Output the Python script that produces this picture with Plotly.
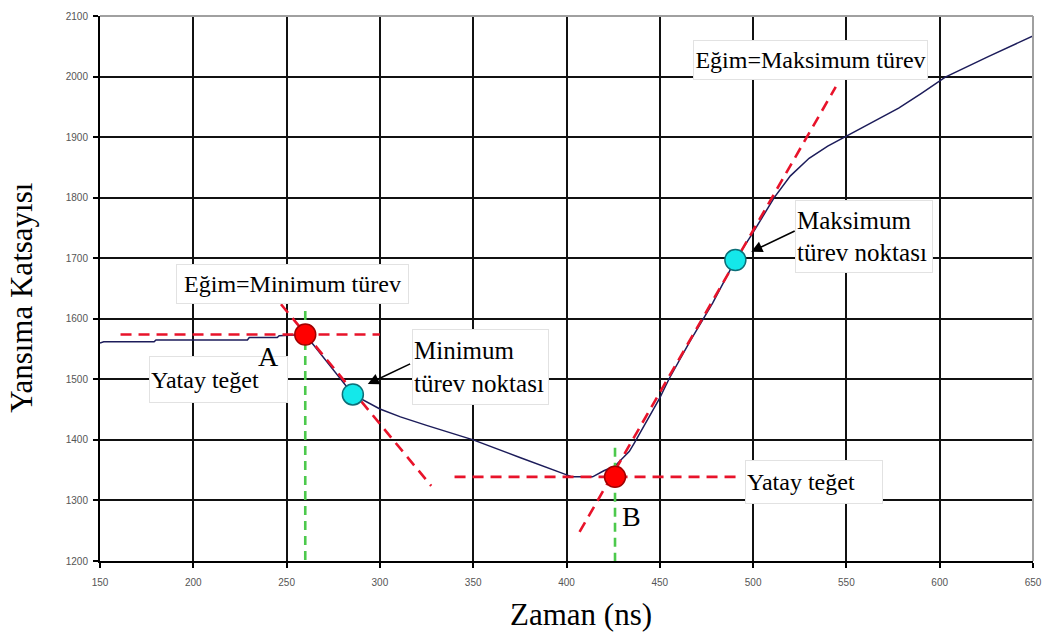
import plotly.graph_objects as go

# ---- data ----
time_ns = [150, 152, 179, 180, 229, 230, 245, 246, 260, 272, 285.5, 300, 311, 325, 350, 375,
           399, 403, 414, 420, 426, 433.7, 436.4, 442.7, 449.8, 455, 466, 478.3, 490.5, 499.7,
           505, 511.3, 520, 530, 540, 549, 565, 578, 590, 603, 626, 650]
reflection = [1560, 1562, 1562, 1565, 1565, 1569, 1569, 1572, 1574, 1527, 1475, 1451, 1438, 1424, 1400, 1371,
              1343, 1339, 1339, 1349, 1357, 1381, 1395, 1430, 1468, 1501, 1562, 1626, 1697, 1741,
              1768, 1800, 1836, 1865, 1885, 1900, 1926, 1948, 1972, 1999, 2033, 2067]

# tangent lines (end points)
tanA_h_x = [161, 300]; tanA_h_y = [1574, 1574]
tanB_h_x = [340, 491.5]; tanB_h_y = [1339, 1339]
tan_min_x = [247, 327.5]; tan_min_y = [1624, 1324]
tan_max_x = [407, 544.3]; tan_max_y = [1248, 1983]
vertA_x = [260, 260]; vertA_y = [1613, 1200]
vertB_x = [426, 426]; vertB_y = [1387, 1200]

# special points
red_x = [260, 426]; red_y = [1574, 1339]
cyan_x = [285.5, 490.5]; cyan_y = [1475, 1697]

x_ticks = [150, 200, 250, 300, 350, 400, 450, 500, 550, 600, 650]
y_ticks = [1200, 1300, 1400, 1500, 1600, 1700, 1800, 1900, 2000, 2100]

SERIF = "Liberation Serif"
RED = "#e8132a"
GREEN = "#4cc94c"

fig = go.Figure()

fig.add_trace(go.Scatter(x=time_ns, y=reflection, mode="lines",
                         line=dict(color="#1c1c5a", width=1.5), showlegend=False))
for xs, ys in [(tanA_h_x, tanA_h_y), (tanB_h_x, tanB_h_y), (tan_min_x, tan_min_y), (tan_max_x, tan_max_y)]:
    fig.add_trace(go.Scatter(x=xs, y=ys, mode="lines",
                             line=dict(color=RED, width=2.6, dash="11px,7px"), showlegend=False))
for xs, ys in [(vertA_x, vertA_y), (vertB_x, vertB_y)]:
    fig.add_trace(go.Scatter(x=xs, y=ys, mode="lines",
                             line=dict(color=GREEN, width=2.6, dash="9px,6px"), showlegend=False))
fig.add_trace(go.Scatter(x=red_x, y=red_y, mode="markers",
                         marker=dict(size=21, color="#ff0000", line=dict(color="#a00000", width=1.5)),
                         showlegend=False))
fig.add_trace(go.Scatter(x=cyan_x, y=cyan_y, mode="markers",
                         marker=dict(size=21, color="#14e8ea", line=dict(color="#0c6f78", width=1.5)),
                         showlegend=False))

lab_font24 = dict(family=SERIF, size=24, color="black")
lab_font25 = dict(family=SERIF, size=25, color="black")
box = dict(bgcolor="white", bordercolor="#e2e2e2", borderwidth=1, showarrow=False,
           xref="x", yref="y")
annots = [
    dict(x=253.0, y=1657.4, text="Eğim=Minimum türev", width=229, height=36, font=lab_font24, **box),
    dict(x=530.9, y=2028.1, text="Eğim=Maksimum türev", width=231, height=36, font=lab_font24, **box),
    dict(x=559.5, y=1736.6, text="Maksimum<br>türev noktası", width=134, height=69, align="left", font=lab_font25, **box),
    dict(x=353.7, y=1520.1, text="Minimum<br>türev noktası", width=133, height=72, align="left", font=lab_font25, **box),
    dict(x=213.5, y=1499.7, text="Yatay teğet", width=135, height=43, align="left", font=lab_font24, **box),
    dict(x=532.7, y=1330.7, text="Yatay teğet", width=134, height=40, align="left", font=lab_font24, **box),
    dict(x=240.5, y=1538.1, text="A", showarrow=False, xref="x", yref="y", font=dict(family=SERIF, size=28, color="black")),
    dict(x=434.6, y=1274.3, text="B", showarrow=False, xref="x", yref="y", font=dict(family=SERIF, size=28, color="black")),
    dict(x=293.5, y=1492.4, ax=317.0, ay=1526.7, axref="x", ayref="y", xref="x", yref="y", text="",
         showarrow=True, arrowhead=2, arrowsize=1.4, arrowwidth=1.6, arrowcolor="black"),
    dict(x=499.0, y=1710.8, ax=523.1, ay=1746.0, axref="x", ayref="y", xref="x", yref="y", text="",
         showarrow=True, arrowhead=2, arrowsize=1.4, arrowwidth=1.6, arrowcolor="black"),
    dict(x=0.516, y=-0.098, xref="paper", yref="paper", text="Zaman (ns)", showarrow=False,
         font=dict(family=SERIF, size=31, color="black"), xanchor="center", yanchor="middle"),
    dict(x=-0.0835, y=0.483, xref="paper", yref="paper", text="Yansıma Katsayısı", showarrow=False,
         textangle=-90, font=dict(family=SERIF, size=31, color="black"), xanchor="center", yanchor="middle"),
]

tickfont = dict(family="Liberation Sans", size=10, color="#555555")
fig.update_layout(
    width=1052, height=639,
    margin=dict(l=100, r=18, t=10, b=78),
    paper_bgcolor="white", plot_bgcolor="white",
    annotations=annots,
    xaxis=dict(range=[150, 650], tickvals=x_ticks, ticktext=[str(v) for v in x_ticks],
               showgrid=True, gridcolor="#111111", gridwidth=1.8, zeroline=False,
               showline=True, linecolor="black", linewidth=2,
               ticks="outside", ticklen=5, tickcolor="black", tickwidth=1.5,
               tickfont=tickfont, ticklabelstandoff=6),
    yaxis=dict(range=[1200, 2100], tickvals=y_ticks, ticktext=[str(v) for v in y_ticks],
               showgrid=True, gridcolor="#111111", gridwidth=1.8, zeroline=False,
               showline=True, linecolor="black", linewidth=2,
               ticks="outside", ticklen=5, tickcolor="black", tickwidth=1.5,
               tickfont=tickfont, ticklabelstandoff=3),
    shapes=[
        dict(type="line", xref="paper", yref="paper", x0=0, x1=1, y0=1, y1=1,
             line=dict(color="#a0a0a0", width=2), layer="above"),
        dict(type="line", xref="paper", yref="paper", x0=1, x1=1, y0=0, y1=1,
             line=dict(color="#a0a0a0", width=2), layer="above"),
    ],
)

fig.write_html("out.html")
